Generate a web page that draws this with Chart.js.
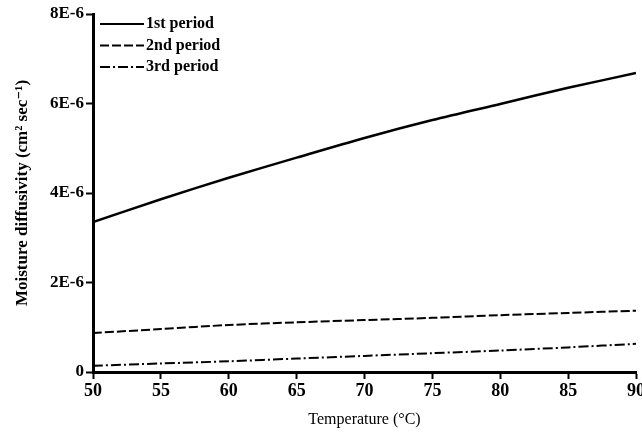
<!DOCTYPE html>
<html>
<head>
<meta charset="utf-8">
<script src="https://cdn.jsdelivr.net/npm/chart.js@4"></script>
<style>
  html, body { margin: 0; padding: 0; background: #fff; }
  #wrap { width: 642px; height: 433px; }
</style>
</head>
<body>
<div id="wrap"><canvas id="diffChart" width="642" height="433"></canvas></div>
<script>
// Temperature (°C) on x
const temps = [50, 55, 60, 65, 70, 75, 80, 85, 90];
// Moisture diffusivity, cm2/sec
const period1 = [3.35e-6, 3.86e-6, 4.34e-6, 4.79e-6, 5.23e-6, 5.63e-6, 5.99e-6, 6.35e-6, 6.68e-6];
const period2 = [0.87e-6, 0.96e-6, 1.05e-6, 1.11e-6, 1.16e-6, 1.21e-6, 1.27e-6, 1.32e-6, 1.37e-6];
const period3 = [0.14e-6, 0.19e-6, 0.24e-6, 0.30e-6, 0.36e-6, 0.42e-6, 0.48e-6, 0.55e-6, 0.63e-6];
const seriesNames = ['1st period', '2nd period', '3rd period'];
const yTickLabels = { 0: '0', 2: '2E-6', 4: '4E-6', 6: '6E-6', 8: '8E-6' };

const serif = "'Liberation Serif', 'DejaVu Serif', serif";

const toPoints = arr => temps.map((t, i) => ({ x: t, y: arr[i] }));

// legend drawn inside the plot, top-left, like the original figure
const innerLegend = {
    id: 'innerLegend',
    afterDraw(chart) {
        const ctx = chart.ctx;
        const area = chart.chartArea;
        ctx.save();
        chart.data.datasets.forEach((ds, i) => {
            const y = area.top + 10 + i * 21.5;
            ctx.beginPath();
            ctx.strokeStyle = '#000';
            ctx.lineWidth = 2;
            ctx.setLineDash(ds.borderDash || []);
            ctx.moveTo(area.left + 7, y);
            ctx.lineTo(area.left + 51, y);
            ctx.stroke();
            ctx.setLineDash([]);
            ctx.fillStyle = '#000';
            ctx.font = 'bold 16px ' + serif;
            ctx.textBaseline = 'middle';
            ctx.fillText(ds.label, area.left + 53, y);
        });
        ctx.restore();
    }
};

const axisGrid = {
    display: true,
    drawOnChartArea: false,
    drawTicks: true,
    tickLength: 7,
    tickColor: '#000',
    tickWidth: 2
};

const ctx = document.getElementById('diffChart').getContext('2d');
const chart = new Chart(ctx, {
    type: 'line',
    data: {
        datasets: [{
            label: seriesNames[0],
            data: toPoints(period1),
            borderColor: '#000',
            borderWidth: 2.5,
            pointRadius: 0,
            tension: 0.3
        }, {
            label: seriesNames[1],
            data: toPoints(period2),
            borderColor: '#000',
            borderWidth: 2,
            borderDash: [9, 3],
            pointRadius: 0,
            tension: 0.3
        }, {
            label: seriesNames[2],
            data: toPoints(period3),
            borderColor: '#000',
            borderWidth: 2,
            borderDash: [10, 3, 2, 3],
            pointRadius: 0,
            tension: 0.3
        }]
    },
    options: {
        responsive: false,
        animation: false,
        layout: { padding: { top: 14, right: 6, left: 0, bottom: 0 } },
        plugins: {
            legend: { display: false },
            tooltip: { enabled: false }
        },
        scales: {
            x: {
                type: 'linear',
                min: 50,
                max: 90,
                grid: axisGrid,
                border: { color: '#000', width: 3 },
                ticks: {
                    stepSize: 5,
                    color: '#000',
                    padding: 2,
                    font: { family: serif, size: 18, weight: 'bold' }
                },
                title: {
                    display: true,
                    text: 'Temperature (°C)',
                    color: '#000',
                    padding: { top: 3 },
                    font: { family: serif, size: 16 }
                },
                afterFit(scale) {
                    scale.height = 61;
                    scale.paddingRight = 0; // let the "90" label run to the edge
                }
            },
            y: {
                min: 0,
                max: 8e-6,
                grid: axisGrid,
                border: { color: '#000', width: 3 },
                ticks: {
                    stepSize: 2e-6,
                    color: '#000',
                    padding: 2,
                    font: { family: serif, size: 17, weight: 'bold' },
                    callback: v => yTickLabels[Math.round(v * 1e6)]
                },
                title: {
                    display: true,
                    text: 'Moisture diffusivity (cm² sec⁻¹)',
                    color: '#000',
                    padding: { top: 12, bottom: 2 },
                    font: { family: serif, size: 17, weight: 'bold' }
                },
                afterFit(scale) { scale.width = 93; }
            }
        }
    },
    plugins: [innerLegend]
});
</script>
</body>
</html>
